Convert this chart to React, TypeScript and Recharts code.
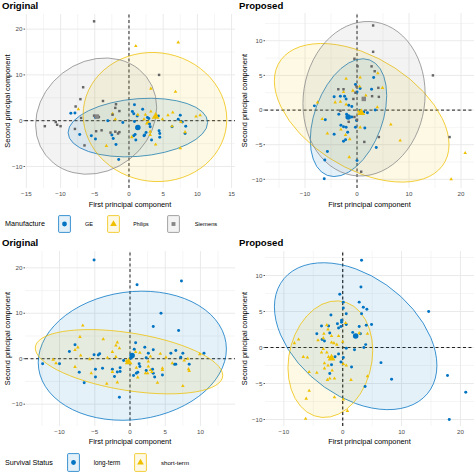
import { ScatterChart, Scatter, XAxis, YAxis, CartesianGrid, ReferenceLine, Symbols } from "recharts";

type Pt = [number, number];

// points (first / second principal component)
const geOriginal: Pt[] = [[-8.5,1.6],[-7.9,1.7],[-7.2,-3],[-5.5,-3.3],[-4.9,-4],[-4.9,0.7],[-3.1,0],[-2.5,-3.1],[-2.3,-3.9],[-1.9,-5.2],[-1.5,-8.5],[-0.9,-0.4],[0.5,2],[0.8,3.5],[0.7,1.5],[1.2,1],[2,2.5],[2.9,0.5],[4.3,1],[0.8,-0.2],[1.2,-1.7],[0.9,-3],[0.7,-3.3],[1,-4.2],[2.2,-3.3],[2.5,-2.6],[2.3,-3.1],[3.1,-1.3],[4.4,-2.2],[4.5,-2.8],[4.5,-3.6],[6.3,-1.3],[7.2,0.3],[7.5,1.2],[7.8,-0.3],[8.3,-1.2],[8.2,-2.8],[2.7,0.7],[3,-0.7],[3.3,-4.2]];
const philipsOriginal: Pt[] = [[1,16.3],[7.2,17.1],[3.2,7],[6.8,6.3],[-7.4,2.5],[-2.4,1.5],[-2,0.3],[-3.3,-5.5],[0.4,-3.6],[1.3,1.3],[2.2,0.3],[2.4,1.3],[3.2,2],[2.8,-0.3],[3.1,-2.4],[3.1,-3.1],[3.9,-5.2],[4.9,0.3],[5.7,1.2],[6.4,1.8],[6.3,-1.2],[7.6,-0.3],[8.2,-2.5],[9.8,0.9],[10.4,1.2],[2.6,-0.6],[7.5,-6]];
const siemensOriginal: Pt[] = [[-5.1,21.7],[4.4,10],[-6.7,7.3],[-7.1,4.7],[-3.8,4.3],[-7.8,3.1],[-1.9,3.6],[-2,2.8],[-1.4,2.1],[-7,0.6],[-10.7,-0.3],[-10.5,-0.9],[-10,-1.2],[-12.3,-1.2],[-7.9,-1.8],[-6.5,-5.4],[-4.8,-2.3],[-4,-2.1],[-2.4,1.3],[-1.4,-2.5],[-5.1,1.1],[-4.4,0.8],[-2.7,-2.6],[-2,-2.4],[-1.6,-2.8]];

const geProposed: Pt[] = [[-8.2,0.6],[-6.3,-9.9],[-6.2,-7.2],[-5.7,-6],[-6.1,-1.4],[-4.4,1.9],[-3.2,2],[-2.4,2],[-2.1,1.6],[-3.5,-0.6],[-2,-0.6],[-1,-1],[-3.1,-2.2],[-2.6,-2.4],[-2.1,-2.5],[-1.8,-3.2],[-4.4,-3.5],[-2.2,-4.3],[-2.6,-4.5],[-0.3,-2.5],[1.5,-2.6],[3.7,-5.4],[0,-7.3],[0.6,3.1],[-0.3,3.7],[3.2,4.7],[2.8,3],[-1.6,0.7],[-1,0.5],[1.3,-0.3],[0.5,-0.1],[2,-0.4],[3.5,0],[0,2.6],[-0.1,-1.5]];
const philipsProposed: Pt[] = [[-2.1,4.5],[0.6,4.7],[4,5.3],[4.9,3.2],[-2.6,2.6],[-0.8,2.8],[0.5,3.4],[1.7,2.1],[-7.6,1.1],[-4.2,1.1],[-3.2,1.2],[-2.1,0.8],[-6.7,-1.3],[-5.7,-3.4],[-3.1,-2.8],[-2.2,-3.6],[-1.4,-4.2],[-1.5,-6.8],[0.6,-2.5],[6.5,-2.1],[8.3,-4.4],[3.9,0.4],[18.1,-10],[20.8,-6.2],[0.3,-0.2]];
const siemensProposed: Pt[] = [[3.1,12.2],[3.1,8.4],[-0.5,7.4],[0.1,6.3],[2.8,6.3],[3.4,5.6],[14.6,5],[-3.6,3],[-2.6,3],[-0.1,3.4],[4.1,3.2],[4.2,1.9],[2.9,2],[-0.7,1.6],[17.8,-3.9],[4.2,-3.9],[1.4,-4.6],[0.8,-8.9],[0,-1.4],[-1.6,-1.7],[-3.2,-0.1],[-0.5,-1],[-0.3,2.5]];

const longOriginal: Pt[] = [[-5.1,21.7],[1,16.3],[7.3,17.1],[4.4,10],[3.3,7.1],[6.9,6.2],[-8.6,1.6],[-7.8,3.1],[-5.1,0.9],[-4.5,0.8],[-4.3,1.1],[0.8,3.5],[0.6,2.1],[2.1,2.5],[3.3,2],[2.6,1.2],[2.3,0.2],[-0.9,-0.4],[5.8,1.2],[6.5,1.8],[7.5,1.2],[7.2,0.3],[10.5,1.2],[-10,-1.1],[-12.4,-1.1],[-7.2,-3],[-4.9,-2.3],[-4.9,-4],[-3.9,-2.1],[-6.5,-5.3],[-2.5,-2.3],[-2.2,-3.9],[-1.8,-2.9],[-1.4,-2],[-1.4,-2.8],[-1.5,-8.5],[0.5,-3.7],[0.9,-3.2],[1.1,-3],[1.3,-1.1],[1.4,-1.7],[2.3,-2.6],[3.2,-2.3],[3.3,-3.2],[3.5,-4],[4.6,-3.6],[6.3,-1.2],[6.5,-1.2],[8.4,-1.2],[0.1,0.1]];
const shortOriginal: Pt[] = [[-6.7,7.3],[-7.1,4.8],[-3.8,4.3],[-7.4,2.5],[-7.8,1.9],[-1.8,3.6],[-2,2.9],[-1.5,2.3],[-2.5,1.5],[-2,0.4],[-7,0.7],[-3.2,0.2],[-5.7,-0.1],[-10.9,-0.2],[-10.5,-1],[-7.8,-1.8],[-5.5,-3.2],[-3.3,-5.5],[-2.5,-2.9],[-1.8,-5.2],[0.8,1.5],[1.4,1.3],[-0.5,-0.5],[0.9,-2],[1.1,-4.1],[2.9,0.5],[2.6,-0.6],[2.9,-2.5],[3.1,-2.9],[2.2,-3.2],[2.5,-3.2],[2.6,-1.7],[3.9,-5.3],[4.6,-2.1],[4.6,-2.5],[4.3,1.1],[5.1,0.3],[6,-1],[7.5,-6],[7.7,-0.4],[8.2,0],[8.3,-2.3],[8.4,-2.7],[9.9,1]];

const longProposed: Pt[] = [[3.2,12.1],[3.1,8.4],[-0.5,7.4],[2.8,6.3],[0.1,6.3],[0.1,5.5],[3.5,5.6],[4.1,5.3],[14.6,5],[3.2,4.7],[-2,4.5],[0.6,4.7],[-0.2,3.8],[-0.2,3.5],[-3.6,3],[-2.4,3],[-0.9,3.3],[-0.7,2.7],[-0.3,2.9],[0.6,3.2],[2.8,2.9],[4.9,3.2],[4,3.1],[-4.4,1.9],[-2.2,2],[1.7,2.1],[3,1.9],[-3.5,1.1],[-3.1,0.9],[3.9,0.4],[3.6,0],[0.6,-0.1],[2,-0.3],[-0.7,-0.9],[-1.3,-1.3],[-1.9,-2.4],[-2.2,-3.6],[-0.3,-2],[1.5,-2.7],[6.5,-2.1],[8.3,-4.4],[17.8,-3.9],[20.9,-6.2],[18.1,-10],[3.8,-5.4],[0.1,-1.4]];
const shortProposed: Pt[] = [[-2.7,3.1],[-2.5,2.5],[0.5,3.4],[-1.9,1.6],[-3.2,1.9],[-0.7,1.6],[4.2,1.9],[2.8,2],[-4.2,1],[-3.3,1.3],[-8.2,0.6],[-7.5,1.1],[-1.9,0.7],[-1.5,0.6],[-1,0.4],[0,0.8],[-3.3,-0.2],[-3.6,-0.7],[-6.7,-1.3],[-6,-1.4],[-2.7,-0.7],[-2.4,-1.3],[-3.1,-2.2],[-3.1,-2.9],[-2.5,-2.5],[-1.8,-3.2],[-5.7,-3.4],[-4.4,-3.5],[-1.4,-4.3],[-2.2,-4.3],[-2.6,-4.5],[1.4,-4.5],[4.2,-4],[-5.7,-6],[-6.2,-7.1],[-1.4,-6.9],[-6.3,-9.9],[0.8,-8.8],[0.1,-7.2],[0.6,-2.5],[0.1,-2.3]];

// ellipses: centre x, centre y, half width, half height, y offset at the rightmost point
type Ell = [number, number, number, number, number];
const ellGeOriginal: Ell = [1.3, -1.5, 10.2, 6.4, 1.1];
const ellPhilipsOriginal: Ell = [3.8, 0.8, 10.5, 14.1, -0.5];
const ellSiemensOriginal: Ell = [-4.8, 1.0, 8.85, 12.7, 1.9];
const ellGeProposed: Ell = [-1.64, -1.1, 7.35, 8.5, 3.2];
const ellPhilipsProposed: Ell = [0.9, -0.4, 16.8, 10, -4.6];
const ellSiemensProposed: Ell = [1.35, 1.63, 11.75, 11.15, 0.7];
const ellLongOriginal: Ell = [0.33, 0.66, 13.35, 14.2, 1.5];
const ellShortOriginal: Ell = [-0.14, -0.66, 13.3, 7.07, -3];
const ellLongProposed: Ell = [2.2, 1.57, 13.8, 10.2, -4.07];
const ellShortProposed: Ell = [-2.1, -1.62, 7.2, 8.1, 1.2];

// centroids
const centGeOriginal: Pt = [1.3, -1.5];
const centPhilipsOriginal: Pt = [3.9, 0.9];
const centSiemensOriginal: Pt = [-4.7, 0.9];
const centGeProposed: Pt = [-1.7, -1];
const centPhilipsProposed: Pt = [0.8, -0.4];
const centSiemensProposed: Pt = [1.3, 1.6];
const centLongOriginal: Pt = [0.3, 0.7];
const centShortOriginal: Pt = [-0.2, -0.7];
const centLongProposed: Pt = [2.2, 1.6];
const centShortProposed: Pt = [-1.9, -1.5];

const XLABEL = "First principal component";
const YLABEL = "Second principal component";

const BLUE = "#0073C2";
const YELLOW = "#EFC000";
const GREY = "#868686";
const FONT = "'Liberation Sans', Arial, sans-serif";

type Kind = "circle" | "triangle" | "square";
type Group = { color: string; dot: string; kind: Kind; points: Pt[]; ellipse: Ell; centroid: Pt };

const ge = (points: Pt[], ellipse: Ell, centroid: Pt): Group => ({ color: BLUE, dot: BLUE, kind: "circle", points, ellipse, centroid });
const yel = (points: Pt[], ellipse: Ell, centroid: Pt): Group => ({ color: YELLOW, dot: YELLOW, kind: "triangle", points, ellipse, centroid });
const gry = (points: Pt[], ellipse: Ell, centroid: Pt): Group => ({ color: GREY, dot: "#666", kind: "square", points, ellipse, centroid });

const dotSize: Record<Kind, number> = { circle: 7, triangle: 5.5, square: 6 };
const bigSize: Record<Kind, number> = { circle: 24, triangle: 26, square: 20 };

const rows = (pts: Pt[]) => pts.map(([x, y]) => ({ x, y }));
const minusFmt = (v: number) => String(v).replace("-", "\u2212");

interface PanelProps {
  title: string;
  left: number;
  top: number;
  plot: { l: number; r: number; t: number; b: number };
  xDomain: [number, number];
  yDomain: [number, number];
  xTicks: number[];
  yTicks: number[];
  xMinor: number[];
  yMinor: number[];
  groups: Group[];
  lineColor: string;
  lineWidth: number;
}

const W = 237;
const H = 210;

function Panel({ title, left, top, plot, xDomain, yDomain, xTicks, yTicks, xMinor, yMinor, groups, lineColor, lineWidth }: PanelProps) {
  const sx = (plot.r - plot.l) / (xDomain[1] - xDomain[0]);
  const sy = (plot.b - plot.t) / (yDomain[1] - yDomain[0]);

  const ellipseShape = (e: Ell, color: string) => (p: any) => {
    const [, , hw, hh, ry] = e;
    const k = Math.sqrt(hh * hh - ry * ry);
    return (
      <circle
        r={1}
        transform={`matrix(${hw * sx} ${-ry * sy} 0 ${-k * sy} ${p.cx} ${p.cy})`}
        fill={color}
        fillOpacity={0.1}
        stroke={color}
        strokeWidth={0.9}
        strokeOpacity={0.85}
        vectorEffect="non-scaling-stroke"
      />
    );
  };
  const marker = (kind: Kind, size: number, color: string) => (p: any) => (
    <Symbols type={kind} size={size} cx={p.cx} cy={p.cy} fill={color} />
  );

  return (
    <div style={{ position: "absolute", left, top, width: W, height: H }}>
      <div style={{ position: "absolute", left: 2, top: -1, font: `bold 9.6px ${FONT}`, lineHeight: "14px", color: "#000", zIndex: 2 }}>{title}</div>
      <ScatterChart width={W} height={H} margin={{ top: plot.t, right: W - plot.r, bottom: 0, left: 0 }}>
        <CartesianGrid stroke="#f1f1f1" strokeWidth={0.7} horizontalValues={yMinor} verticalValues={xMinor} />
        <CartesianGrid stroke="#e8e8e8" strokeWidth={0.9} horizontalValues={yTicks} verticalValues={xTicks} />
        <XAxis
          type="number"
          dataKey="x"
          domain={xDomain}
          ticks={xTicks}
          interval={0}
          allowDataOverflow
          height={H - plot.b}
          axisLine={false}
          tickLine={false}
          tickSize={4}
          tickMargin={0}
          tickFormatter={minusFmt}
          tick={{ fontSize: 6.2, fill: "#4d4d4d", fontFamily: FONT }}
          label={{ value: XLABEL, position: "insideBottom", offset: 3, style: { fontSize: 7.4, fill: "#000", fontFamily: FONT } }}
        />
        <YAxis
          type="number"
          dataKey="y"
          domain={yDomain}
          ticks={yTicks}
          interval={0}
          allowDataOverflow
          width={plot.l}
          axisLine={false}
          tickLine={{ stroke: "#333", strokeWidth: 0.8 }}
          tickSize={1.5}
          tickMargin={1}
          tickFormatter={minusFmt}
          tick={{ fontSize: 6.2, fill: "#4d4d4d", fontFamily: FONT }}
          label={{ value: YLABEL, angle: -90, position: "insideLeft", offset: 7, style: { fontSize: 7.4, fill: "#000", fontFamily: FONT, textAnchor: "middle" } }}
        />
        {groups.map((g, i) => (
          <Scatter
            key={`e${i}`}
            data={[{ x: g.ellipse[0], y: g.ellipse[1] }]}
            shape={ellipseShape(g.ellipse, g.color)}
            isAnimationActive={false}
          />
        ))}
        {groups.map((g, i) => (
          <Scatter key={`p${i}`} data={rows(g.points)} shape={marker(g.kind, dotSize[g.kind], g.dot)} isAnimationActive={false} />
        ))}
        {groups.map((g, i) => (
          <Scatter key={`c${i}`} data={rows([g.centroid])} shape={marker(g.kind, bigSize[g.kind], g.color)} isAnimationActive={false} />
        ))}
        <ReferenceLine x={0} stroke={lineColor} strokeWidth={lineWidth} strokeDasharray="3 2.5" />
        <ReferenceLine y={0} stroke={lineColor} strokeWidth={lineWidth} strokeDasharray="3 2.5" />
      </ScatterChart>
    </div>
  );
}

function LegendKey({ left, top, width, height, color, kind }: { left: number; top: number; width: number; height: number; color: string; kind: Kind }) {
  return (
    <svg style={{ position: "absolute", left, top }} width={width} height={height}>
      <rect x={0.6} y={0.6} width={width - 1.2} height={height - 1.2} rx={1} fill={color} fillOpacity={0.1} stroke={color} strokeWidth={0.9} strokeOpacity={0.85} />
      <Symbols type={kind} size={bigSize[kind] * 0.75} cx={width / 2} cy={height / 2} fill={color} />
    </svg>
  );
}

function LegendText({ cx, y, size, children, left }: { cx?: number; y: number; size: number; children: string; left?: number }) {
  const style: any = { position: "absolute", top: y - 6, lineHeight: "12px", fontSize: size, fontFamily: FONT, color: "#000", whiteSpace: "nowrap" };
  if (left !== undefined) style.left = left;
  else { style.left = (cx as number) - 40; style.width = 80; style.textAlign = "center"; }
  return <div style={style}>{children}</div>;
}

export default function App() {
  return (
    <div style={{ position: "absolute", left: 0, top: 0, width: 475, height: 474, background: "#fff", overflow: "hidden" }}>
      <Panel
        title="Original" left={0} top={0}
        plot={{ l: 25, r: 235, t: 14, b: 188 }}
        xDomain={[-15.2, 15.5]} yDomain={[-14.7, 23.3]}
        xTicks={[-15, -10, -5, 0, 5, 10, 15]} yTicks={[-10, 0, 10, 20]}
        xMinor={[-12.5, -7.5, -2.5, 2.5, 7.5, 12.5]} yMinor={[-5, 5, 15]}
        groups={[ge(geOriginal, ellGeOriginal, centGeOriginal), yel(philipsOriginal, ellPhilipsOriginal, centPhilipsOriginal), gry(siemensOriginal, ellSiemensOriginal, centSiemensOriginal)]}
        lineColor="#222" lineWidth={1}
      />
      <Panel
        title="Proposed" left={237} top={0}
        plot={{ l: 28, r: 237, t: 13, b: 188 }}
        xDomain={[-17.7, 22.5]} yDomain={[-11.25, 14]}
        xTicks={[-10, 0, 10, 20]} yTicks={[-10, -5, 0, 5, 10]}
        xMinor={[-15, -5, 5, 15]} yMinor={[-7.5, -2.5, 2.5, 7.5, 12.5]}
        groups={[ge(geProposed, ellGeProposed, centGeProposed), yel(philipsProposed, ellPhilipsProposed, centPhilipsProposed), gry(siemensProposed, ellSiemensProposed, centSiemensProposed)]}
        lineColor="#444" lineWidth={1.2}
      />
      <Panel
        title="Original" left={0} top={237}
        plot={{ l: 25, r: 235, t: 14, b: 189 }}
        xDomain={[-14.9, 14.9]} yDomain={[-14.8, 23.7]}
        xTicks={[-10, -5, 0, 5, 10]} yTicks={[-10, 0, 10, 20]}
        xMinor={[-12.5, -7.5, -2.5, 2.5, 7.5, 12.5]} yMinor={[-5, 5, 15]}
        groups={[ge(longOriginal, ellLongOriginal, centLongOriginal), yel(shortOriginal, ellShortOriginal, centShortOriginal)]}
        lineColor="#222" lineWidth={1}
      />
      <Panel
        title="Proposed" left={237} top={237}
        plot={{ l: 28, r: 237, t: 14, b: 189 }}
        xDomain={[-13.2, 22.3]} yDomain={[-10.9, 13.4]}
        xTicks={[-10, 0, 10, 20]} yTicks={[-10, -5, 0, 5, 10]}
        xMinor={[-5, 5, 15]} yMinor={[-7.5, -2.5, 2.5, 7.5, 12.5]}
        groups={[ge(longProposed, ellLongProposed, centLongProposed), yel(shortProposed, ellShortProposed, centShortProposed)]}
        lineColor="#222" lineWidth={1.2}
      />

      <LegendText left={5} y={224} size={7.2}>Manufacture</LegendText>
      <LegendKey left={58} top={215} width={13} height={18} color={BLUE} kind="circle" />
      <LegendText cx={89} y={224} size={5.6}>GE</LegendText>
      <LegendKey left={107} top={215} width={13} height={18} color={YELLOW} kind="triangle" />
      <LegendText cx={141} y={224} size={5.2}>Philips</LegendText>
      <LegendKey left={167} top={215} width={13} height={18} color={GREY} kind="square" />
      <LegendText cx={206} y={224} size={5.8}>Siemens</LegendText>

      <LegendText left={5} y={463} size={7.2}>Survival Status</LegendText>
      <LegendKey left={67} top={453} width={13} height={19} color={BLUE} kind="circle" />
      <LegendText cx={107} y={463} size={6.3}>long-term</LegendText>
      <LegendKey left={134} top={453} width={13} height={19} color={YELLOW} kind="triangle" />
      <LegendText cx={175} y={463} size={6.2}>short-term</LegendText>
    </div>
  );
}
